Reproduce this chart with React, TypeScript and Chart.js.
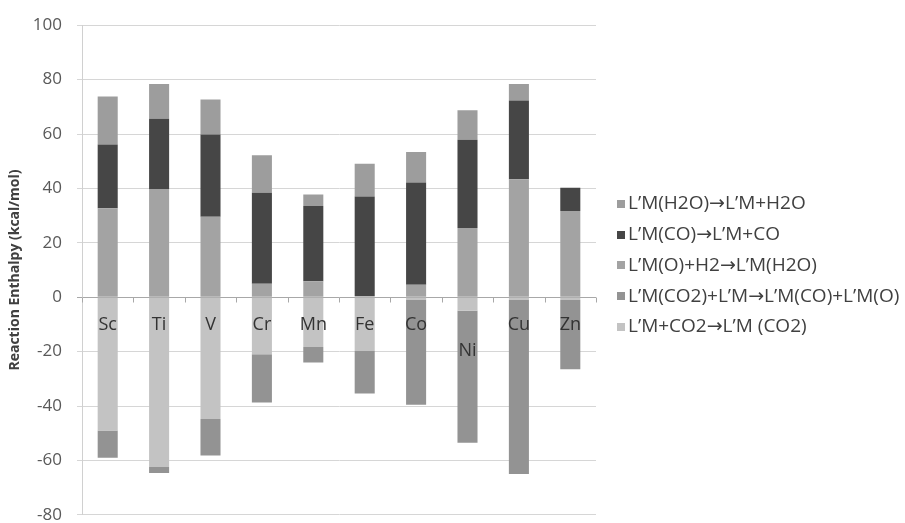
import { useEffect, useRef } from 'react';
import { Chart, registerables } from 'chart.js';

Chart.register(...registerables);

const FONT = "'Open Sans', 'DejaVu Sans', sans-serif";

// Metals along the category axis
const categories = ['Sc', 'Ti', 'V', 'Cr', 'Mn', 'Fe', 'Co', 'Ni', 'Cu', 'Zn'];

// Reaction enthalpies per step (kcal/mol)
const co2Binding = [-49.0, -62.4, -44.8, -21.0, -18.3, -19.8, -1.0, -5.0, -1.0, -1.0];
const co2Splitting = [-10.0, -2.2, -13.4, -17.7, -5.7, -15.6, -38.5, -48.5, -64.0, -25.5];
const oxoHydrogenation = [32.7, 39.8, 29.6, 4.9, 5.9, 0.4, 4.6, 25.4, 43.4, 31.7];
const coRelease = [23.4, 25.8, 30.2, 33.5, 27.6, 36.6, 37.6, 32.5, 28.9, 8.5];
const waterRelease = [17.7, 12.8, 12.9, 13.8, 4.3, 12.1, 11.2, 10.8, 6.1, 0.0];

const seriesNames = [
  'L’M+CO2→L’M (CO2)',
  'L’M(CO2)+L’M→L’M(CO)+L’M(O)',
  'L’M(O)+H2→L’M(H2O)',
  'L’M(CO)→L’M+CO',
  'L’M(H2O)→L’M+H2O',
];
const seriesValues = [co2Binding, co2Splitting, oxoHydrogenation, coRelease, waterRelease];
const seriesColors = ['#c3c3c3', '#939393', '#a3a3a3', '#464646', '#9d9d9d'];

// Value axis
const yMin = -80;
const yMax = 100;
const yStep = 20;
const yTitle = 'Reaction Enthalpy (kcal/mol)';

// Labels that sit one line lower under the axis
const loweredLabels: Record<string, number> = { Ni: 1 };

const overlay = {
  id: 'overlay',
  afterDatasetsDraw(chart: any) {
    const { ctx, scales } = chart;
    const x = scales.x;
    const y = scales.y;
    const zeroY = Math.round(y.getPixelForValue(0)) + 0.5;
    ctx.save();

    // tick marks on the horizontal axis between categories
    ctx.strokeStyle = '#a8a8a8';
    ctx.lineWidth = 1;
    for (let i = 0; i <= categories.length; i++) {
      const px = Math.round(x.getPixelForValue(i - 0.5)) + 0.5;
      ctx.beginPath();
      ctx.moveTo(px, zeroY);
      ctx.lineTo(px, zeroY + 5);
      ctx.stroke();
    }

    // category names, drawn low over the bars
    ctx.font = `18px ${FONT}`;
    ctx.fillStyle = '#333333';
    ctx.textAlign = 'center';
    ctx.textBaseline = 'middle';
    categories.forEach((c, i) => {
      const drop = (loweredLabels[c] ?? 0) * 26;
      ctx.fillText(c, x.getPixelForValue(i), zeroY + 27 + drop);
    });

    // legend, top series first
    const lx = 617;
    const ly = 204;
    const step = 30.7;
    ctx.font = `19px ${FONT}`;
    ctx.textAlign = 'left';
    const ds = chart.data.datasets;
    for (let k = 0; k < ds.length; k++) {
      const d = ds[ds.length - 1 - k];
      const cy = ly + k * step;
      ctx.fillStyle = d.backgroundColor;
      ctx.fillRect(lx, Math.round(cy - 4), 8, 8);
      ctx.fillStyle = '#404040';
      ctx.fillText(d.label, lx + 11, cy);
    }
    ctx.restore();
  },
};

export default function App() {
  const canvasRef = useRef<HTMLCanvasElement | null>(null);

  useEffect(() => {
    const canvas = canvasRef.current;
    if (!canvas) return;
    const chart = new Chart(canvas, {
      type: 'bar',
      data: {
        labels: categories,
        datasets: seriesValues.map((values, i) => ({
          label: seriesNames[i],
          data: values,
          backgroundColor: seriesColors[i],
          borderWidth: 0,
          categoryPercentage: 1,
          barPercentage: 0.39,
        })),
      },
      options: {
        responsive: false,
        animation: false,
        layout: { padding: { left: 4, right: 309, top: 23, bottom: 25 } },
        plugins: {
          legend: { display: false },
          tooltip: { enabled: false },
        },
        scales: {
          x: {
            stacked: true,
            display: false,
          },
          y: {
            stacked: true,
            min: yMin,
            max: yMax,
            afterFit: (scale: any) => {
              scale.width = 78;
            },
            ticks: {
              stepSize: yStep,
              padding: 15,
              color: '#595959',
              font: { family: FONT, size: 17 },
            },
            grid: {
              color: (c: any) => (c.tick && c.tick.value === 0 ? '#a8a8a8' : '#d6d6d6'),
              tickLength: 5,
            },
            border: { display: true, color: '#d0d0d0' },
            title: {
              display: true,
              text: yTitle,
              color: '#404040',
              font: { family: FONT, size: 14, weight: 'bold' },
              padding: { top: 3, bottom: 4 },
            },
          },
        },
      },
      plugins: [overlay],
    });
    return () => chart.destroy();
  }, []);

  return (
    <div
      style={{
        position: 'absolute',
        left: 0,
        top: 0,
        width: 905,
        height: 523,
        overflow: 'hidden',
        background: '#ffffff',
      }}
    >
      <canvas ref={canvasRef} width={905} height={540} />
    </div>
  );
}
